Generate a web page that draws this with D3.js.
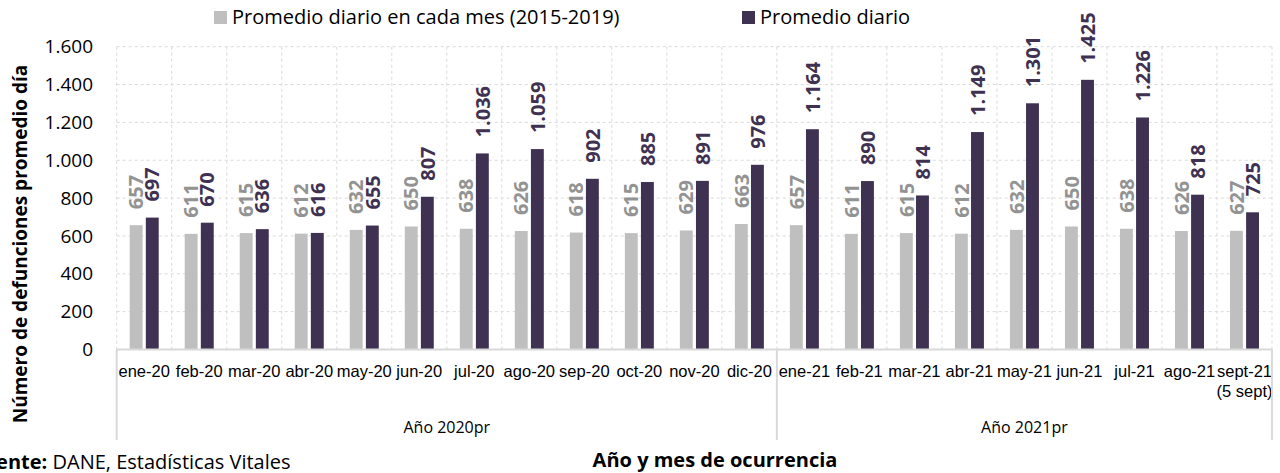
<!DOCTYPE html>
<html>
<head>
<meta charset="utf-8">
<script src="https://cdn.jsdelivr.net/npm/d3@7"></script>
<style>
  html, body { margin: 0; padding: 0; background: #fff; }
  svg { display: block; font-family: "Open Sans", "Noto Sans", sans-serif; }
</style>
</head>
<body>
<svg id="chart" width="1280" height="473"></svg>
<script>
// ---- data ----
const categories = ["ene-20","feb-20","mar-20","abr-20","may-20","jun-20","jul-20","ago-20","sep-20","oct-20","nov-20","dic-20",
                    "ene-21","feb-21","mar-21","abr-21","may-21","jun-21","jul-21","ago-21","sept-21\n(5 sept)"];
const seriesNames = ["Promedio diario en cada mes (2015-2019)", "Promedio diario"];
const avg2015_2019 = [657,611,615,612,632,650,638,626,618,615,629,663,657,611,615,612,632,650,638,626,627];
const dailyAvg     = [697,670,636,616,655,807,1036,1059,902,885,891,976,1164,890,814,1149,1301,1425,1226,818,725];
const yearLabels = ["Año 2020pr", "Año 2021pr"];
const yearCounts = [12, 9];
const yTicks = [0,200,400,600,800,1000,1200,1400,1600];
const yTitle = "Número de defunciones promedio día";
const xTitle = "Año y mes de ocurrencia";
const sourceBold = "Fuente:";
const sourceText = " DANE, Estadísticas Vitales";

// ---- style ----
const colors = ["#BFBFBF", "#3F3151"];
const labelColors = ["#939393", "#3F3151"];
const gridColor = "#D9D9D9";

const svg = d3.select("#chart");
const L = 116.7, R = 1272, T = 46.7, B = 349.5;

const locale = d3.formatLocale({decimal: ",", thousands: ".", grouping: [3], currency: ["$",""]});
const fmt = locale.format(",d");

const x = d3.scaleBand().domain(categories).range([L, R]).padding(0);
const y = d3.scaleLinear().domain([0, 1600]).range([B, T]);
const xs = d3.scaleBand().domain([0,1]).range([x.bandwidth()/2 - 14.5, x.bandwidth()/2 + 14.5]).paddingInner(0.2);

// horizontal gridlines
svg.append("g").selectAll("line").data(yTicks.filter(d => d > 0)).join("line")
  .attr("x1", L).attr("x2", R).attr("y1", d => y(d)).attr("y2", d => y(d))
  .attr("stroke", gridColor).attr("stroke-width", 1).attr("stroke-dasharray", "3,3");

// vertical gridlines
svg.append("g").selectAll("line").data(d3.range(categories.length + 1)).join("line")
  .attr("x1", i => L + i * x.step()).attr("x2", i => L + i * x.step())
  .attr("y1", T).attr("y2", B)
  .attr("stroke", gridColor).attr("stroke-width", 1).attr("stroke-dasharray", "3,3");

// y axis labels
const yAxis = d3.axisLeft(y).tickValues(yTicks).tickFormat(fmt).tickSize(0).tickPadding(0);
const yg = svg.append("g").attr("transform", `translate(93,0)`).call(yAxis);
yg.select(".domain").remove();
yg.selectAll("text").attr("font-size", 19).attr("fill", "#000").attr("font-family", "Open Sans");

// bars
const seriesData = [avg2015_2019, dailyAvg];
seriesData.forEach((vals, s) => {
  const g = svg.append("g");
  g.selectAll("rect").data(vals).join("rect")
    .attr("x", (d, i) => x(categories[i]) + xs(s))
    .attr("width", xs.bandwidth())
    .attr("y", d => y(d))
    .attr("height", d => B - y(d))
    .attr("fill", colors[s]);
  g.selectAll("text").data(vals).join("text")
    .attr("transform", (d, i) => `translate(${x(categories[i]) + xs(s) + xs.bandwidth()/2},${y(d) - 16}) rotate(-90)`)
    .attr("dy", "0.36em")
    .attr("font-size", 20)
    .attr("font-weight", "bold")
    .attr("fill", labelColors[s])
    .text(d => fmt(d));
});

// x axis line
svg.append("line").attr("x1", L).attr("x2", R).attr("y1", B).attr("y2", B)
  .attr("stroke", gridColor).attr("stroke-width", 2);

// category labels
const xAxis = d3.axisBottom(x).tickSize(0).tickPadding(0).tickFormat(() => "");
const xg = svg.append("g").attr("transform", `translate(0,${B})`).call(xAxis);
xg.select(".domain").remove();
xg.selectAll(".tick").each(function(d) {
  const t = d3.select(this).append("text")
    .attr("text-anchor", "middle").attr("font-size", 16.5).attr("fill", "#000");
  d.split("\n").forEach((line, k) => {
    t.append("tspan").attr("x", 0).attr("y", 27.5 + k * 20).text(line);
  });
});

// multi-level separators and year labels
let idx = 0;
const bounds = [0];
yearCounts.forEach(c => { idx += c; bounds.push(idx); });
svg.append("g").selectAll("line").data(bounds).join("line")
  .attr("x1", i => L + i * x.step()).attr("x2", i => L + i * x.step())
  .attr("y1", B).attr("y2", 440)
  .attr("stroke", gridColor).attr("stroke-width", 2);
svg.append("g").selectAll("text").data(yearLabels).join("text")
  .attr("x", (d, k) => L + (bounds[k] + bounds[k+1]) / 2 * x.step())
  .attr("y", 433)
  .attr("text-anchor", "middle").attr("font-size", 16).attr("fill", "#000")
  .text(d => d);

// axis titles
svg.append("text")
  .attr("transform", `translate(20,244) rotate(-90)`)
  .attr("dy", "0.35em")
  .attr("text-anchor", "middle").attr("font-size", 19).attr("font-weight", "bold").attr("fill", "#000")
  .text(yTitle);
svg.append("text")
  .attr("x", 715).attr("y", 467)
  .attr("text-anchor", "middle").attr("font-size", 20).attr("font-weight", "bold").attr("fill", "#000")
  .text(xTitle);

// source
const src = svg.append("text").attr("x", -28).attr("y", 469).attr("font-size", 20).attr("fill", "#000");
src.append("tspan").attr("font-weight", "bold").text(sourceBold);
src.append("tspan").text(sourceText);

// legend
const legendX = [214, 742];
const lg = svg.append("g").selectAll("g").data(seriesNames).join("g")
  .attr("transform", (d, i) => `translate(${legendX[i]},11)`);
lg.append("rect").attr("width", 13).attr("height", 13).attr("fill", (d, i) => colors[i]);
lg.append("text").attr("x", 18).attr("y", 13).attr("font-size", 20).attr("fill", "#000").text(d => d);
</script>
</body>
</html>
